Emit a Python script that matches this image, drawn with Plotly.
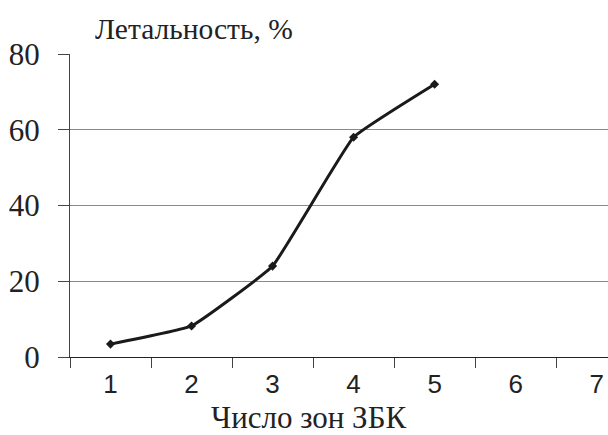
import plotly.graph_objects as go

categories = ["1", "2", "3", "4", "5", "6", "7"]
lethality = [3.4, 8.2, 24, 58, 72]
y_ticks = [0, 20, 40, 60, 80]
y_title = "Летальность, %"
x_title = "Число зон ЗБК"

fig = go.Figure()
fig.add_trace(go.Scatter(
    x=categories[:len(lethality)], y=lethality,
    mode="lines+markers",
    line=dict(color="#1a1a1a", width=3, shape="spline", smoothing=0.3),
    marker=dict(symbol="diamond", size=7, color="#1a1a1a"),
    showlegend=False,
))

W, H = 608, 435
L, R, T, B = 70, 0, 54, 78
pw = W - L - R
ph = H - T - B

SERIF = "Liberation Serif, Times New Roman, serif"
SANS = "Liberation Sans, Arial, sans-serif"

fig.update_layout(
    width=W, height=H,
    margin=dict(l=L, r=R, t=T, b=B, pad=0),
    plot_bgcolor="white", paper_bgcolor="white",
    xaxis=dict(
        type="category", categoryarray=categories, categoryorder="array",
        range=[-0.5, 6.14], tickson="boundaries",
        ticks="outside", ticklen=10, tickcolor="#444", tickwidth=1,
        showline=True, linecolor="#222", linewidth=1.3,
        showgrid=False, zeroline=False,
        ticklabelstandoff=4,
        tickfont=dict(family=SANS, size=26, color="#222"),
    ),
    yaxis=dict(
        range=[0, 80], tickvals=y_ticks,
        ticks="outside", ticklen=11, tickcolor="#444", tickwidth=1,
        showline=True, linecolor="#444", linewidth=1,
        showgrid=True, gridcolor="#8a8a8a", gridwidth=1.2,
        zeroline=False,
        ticklabelstandoff=12,
        tickfont=dict(family=SERIF, size=31, color="#222"),
    ),
    annotations=[
        dict(text=y_title, xref="paper", yref="paper",
             x=(93 - L) / pw, y=(T - 29) / ph + 1, xanchor="left", yanchor="middle",
             showarrow=False,
             font=dict(family=SERIF, size=29.5, color="#222")),
        dict(text=x_title, xref="paper", yref="paper",
             x=(308 - L) / pw, y=-(417 - (H - B)) / ph, xanchor="center", yanchor="middle",
             showarrow=False,
             font=dict(family=SERIF, size=31, color="#222")),
    ],
)

fig.write_html("out.html", config={"displayModeBar": False},
               post_script="document.body.style.margin='0';document.body.style.overflow='hidden';")
